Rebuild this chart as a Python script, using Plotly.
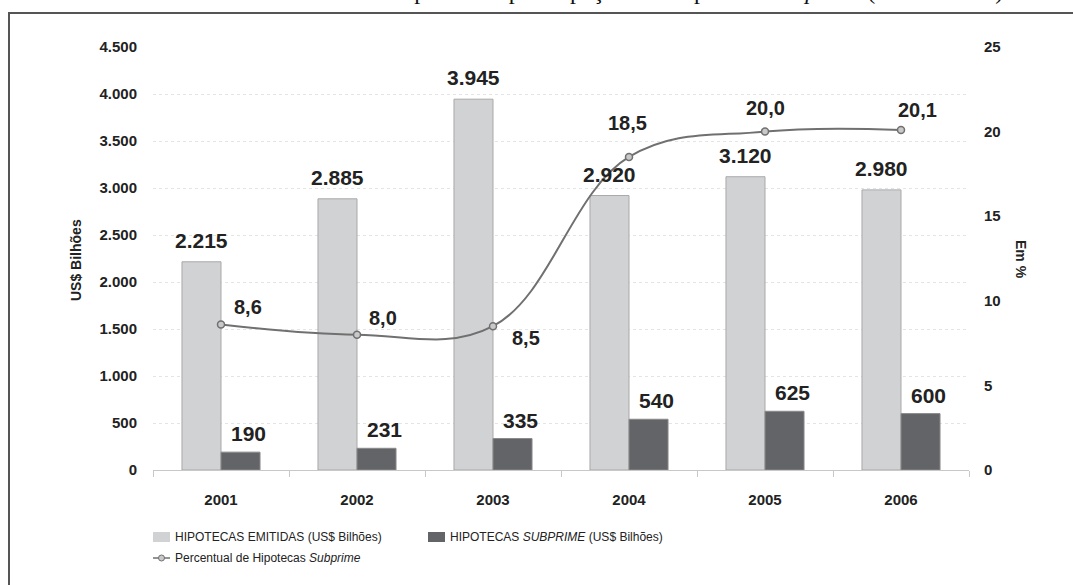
import plotly.graph_objects as go

# Dados: hipotecas emitidas, hipotecas subprime (US$ bilhões) e percentual subprime
anos = ["2001", "2002", "2003", "2004", "2005", "2006"]
hipotecas_emitidas = [2215, 2885, 3945, 2920, 3120, 2980]
hipotecas_subprime = [190, 231, 335, 540, 625, 600]
percentual_subprime = [8.6, 8.0, 8.5, 18.5, 20.0, 20.1]

# deslocamento (px) dos rótulos do percentual em relação ao ponto
pct_label_shift = [(27, 17), (26, 17), (33, -12), (-2, 34), (0, 24), (16, 20)]

COR_CLARA = "#d1d2d4"
COR_ESCURA = "#636467"
COR_LINHA = "#707070"
FONTE = "Liberation Sans, Arial, sans-serif"

fig = go.Figure()

fig.add_trace(go.Bar(
    x=anos, y=hipotecas_emitidas, name="HIPOTECAS EMITIDAS (US$ Bilhões)",
    marker=dict(color=COR_CLARA, line=dict(color="#a9a9a9", width=1)),
    showlegend=False, yaxis="y",
))
fig.add_trace(go.Bar(
    x=anos, y=hipotecas_subprime, name="HIPOTECAS SUBPRIME (US$ Bilhões)",
    marker=dict(color=COR_ESCURA, line=dict(color="#8a8a8a", width=1)),
    showlegend=False, yaxis="y",
))
fig.add_trace(go.Scatter(
    x=anos, y=percentual_subprime, name="Percentual de Hipotecas Subprime",
    mode="lines+markers", line=dict(color=COR_LINHA, width=2, shape="spline", smoothing=1.1),
    marker=dict(symbol="circle", size=7, color="#c9c9c9", line=dict(color=COR_LINHA, width=1.5)),
    showlegend=False, yaxis="y2",
))

annotations = []

# rótulos das barras (posição pelo índice da categoria)
for i, v in enumerate(hipotecas_emitidas):
    annotations.append(dict(
        x=i, y=v, xref="x", yref="y", text=f"{v:,}".replace(",", "."),
        showarrow=False, xshift=-19.5, yshift=8, yanchor="bottom",
        font=dict(family=FONTE, size=21, color="#222222", weight="bold"),
    ))
for i, v in enumerate(hipotecas_subprime):
    annotations.append(dict(
        x=i, y=v, xref="x", yref="y", text=f"{v}",
        showarrow=False, xshift=27, yshift=5, yanchor="bottom",
        font=dict(family=FONTE, size=21, color="#222222", weight="bold"),
    ))
# rótulos do percentual
for i, (v, (dx, dy)) in enumerate(zip(percentual_subprime, pct_label_shift)):
    annotations.append(dict(
        x=i, y=v, xref="x", yref="y2", text=f"{v:.1f}".replace(".", ","),
        showarrow=False, xshift=dx, yshift=dy,
        font=dict(family=FONTE, size=20, color="#222222", weight="bold"),
    ))

W, H = 1073, 585
L, R, T, B = 153, 104, 47, 115
PW, PH = W - L - R, H - T - B


def px(x):
    return (x - L) / PW


def py(y):
    return (H - B - y) / PH


# títulos dos eixos
annotations.append(dict(
    x=px(76), y=py(260), xref="paper", yref="paper", xanchor="center", yanchor="middle",
    text="<b>US$ Bilhões</b>", textangle=-90,
    showarrow=False, font=dict(family=FONTE, size=14, color="#222222"),
))
annotations.append(dict(
    x=px(1021), y=py(259), xref="paper", yref="paper", xanchor="center", yanchor="middle",
    text="<b>Em %</b>", textangle=90,
    showarrow=False, font=dict(family=FONTE, size=14, color="#222222"),
))

# título do gráfico (cortado na borda superior)
annotations.append(dict(
    x=px(540), y=py(6), xref="paper", yref="paper", xanchor="center", yanchor="bottom",
    text="Gráfico 1 – Valor total de novas Hipotecas e participação das Hipotecas <i>subprime</i> (2001 – 2006)",
    showarrow=False, font=dict(family="Liberation Serif, Times New Roman, serif", size=24, color="#111111"),
))

# legenda
legend_items = [
    (153, 537, "bar", COR_CLARA, "HIPOTECAS EMITIDAS (US$ Bilhões)"),
    (428, 537, "bar", COR_ESCURA, "HIPOTECAS <i>SUBPRIME</i> (US$ Bilhões)"),
    (153, 558, "line", COR_LINHA, "Percentual de Hipotecas <i>Subprime</i>"),
]

shapes = []
for x0, yc, kind, cor, texto in legend_items:
    if kind == "bar":
        shapes.append(dict(type="rect", xref="paper", yref="paper",
                           x0=px(x0), x1=px(x0 + 17), y0=py(yc + 5), y1=py(yc - 5),
                           fillcolor=cor, line=dict(width=0)))
    else:
        shapes.append(dict(type="line", xref="paper", yref="paper",
                           x0=px(x0), x1=px(x0 + 17), y0=py(yc), y1=py(yc),
                           line=dict(color=cor, width=1.5)))
        shapes.append(dict(type="circle", xref="paper", yref="paper",
                           x0=px(x0 + 5.5), x1=px(x0 + 11.5), y0=py(yc + 3), y1=py(yc - 3),
                           fillcolor="#c9c9c9", line=dict(color=cor, width=1)))
    annotations.append(dict(
        x=px(x0 + 20), y=py(yc), xref="paper", yref="paper", xanchor="left", yanchor="middle",
        text=texto, showarrow=False, font=dict(family=FONTE, size=12, color="#222222"),
    ))

# moldura
shapes.append(dict(type="rect", xref="paper", yref="paper",
                   x0=px(9), x1=px(W + 20), y0=py(H + 20), y1=py(13),
                   line=dict(color="#555555", width=2), fillcolor="rgba(0,0,0,0)", layer="below"))

fig.update_layout(
    width=W, height=H,
    margin=dict(l=L, r=R, t=T, b=B, pad=0),
    paper_bgcolor="white", plot_bgcolor="white",
    separators=",.",
    barmode="group", bargap=0.426, bargroupgap=0,
    showlegend=False,
    xaxis=dict(
        type="category", range=[-0.5, 5.5], showline=True, linecolor="#c8c8c8", linewidth=1,
        ticks="outside", tickson="boundaries", ticklen=6, tickcolor="#c8c8c8",
        tickfont=dict(family=FONTE, size=15, color="#222222", weight="bold"),
        ticklabelstandoff=16, tickangle=0, showgrid=False,
    ),
    yaxis=dict(
        range=[0, 4500], dtick=500, tickformat=",d", showline=False,
        showgrid=True, gridcolor="#e4e4e4", griddash="dot", gridwidth=1,
        zeroline=False, ticks="", ticklabelstandoff=15,
        tickfont=dict(family=FONTE, size=15, color="#222222", weight="bold"),
    ),
    yaxis2=dict(
        range=[0, 25], dtick=5, overlaying="y", side="right", showgrid=False,
        zeroline=False, showline=False, ticks="", ticklabelstandoff=14,
        tickfont=dict(family=FONTE, size=15, color="#222222", weight="bold"),
    ),
    annotations=annotations,
    shapes=shapes,
)

fig.write_html("out.html")
